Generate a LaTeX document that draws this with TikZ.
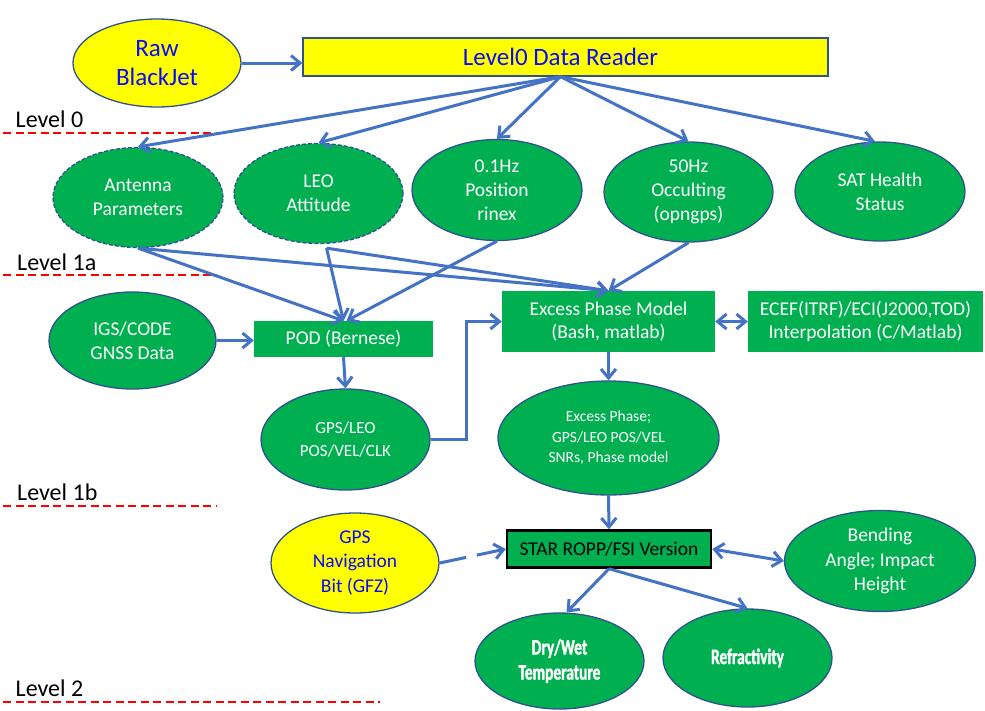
\documentclass[tikz,border=0pt]{standalone}
\usepackage{fontspec}
\setmainfont{Carlito}
\newfontfamily\condbold{Carlito}[FakeStretch=0.7, BoldFeatures={FakeBold=1.5}]
\usetikzlibrary{shapes.geometric,arrows.meta,calc}
\definecolor{gfill}{RGB}{0,176,80}
\definecolor{yfill}{RGB}{255,255,0}
\definecolor{edgeblue}{RGB}{47,82,143}
\definecolor{arr}{RGB}{68,114,196}
\definecolor{txtblue}{RGB}{10,10,250}
\definecolor{lvlred}{RGB}{255,0,0}
\tikzset{
 ell/.style={ellipse, draw=edgeblue, line width=1.3pt, fill=gfill, text=white, inner sep=0pt, align=center, font=\fontsize{19.5}{24}\selectfont},
 dashell/.style={ell, dash pattern=on 4pt off 2pt},
 yell/.style={ell, fill=yfill, text=txtblue},
 gbox/.style={rectangle, fill=gfill, text=white, inner sep=0pt, align=center, font=\fontsize{19.5}{23.5}\selectfont},
 conn/.style={draw=arr, line width=3pt, -{Straight Barb[length=9pt,width=15pt]}},
 biconn/.style={draw=arr, line width=3pt, {Straight Barb[length=9pt,width=15pt]}-{Straight Barb[length=9pt,width=15pt]}},
 lvl/.style={anchor=base west, inner sep=0pt, font=\fontsize{24}{28}\selectfont},
 lvlline/.style={draw=lvlred, line width=2pt, dash pattern=on 8pt off 4.5pt},
}
\begin{document}
\begin{tikzpicture}[x=1pt,y=-1pt]
\useasboundingbox (0,0) rectangle (985,710);
% level labels
\node[lvl] (l0) at (15.5,127.7) {Level 0};
\node[lvl] (l1a) at (17,270.7) {Level 1a};
\node[lvl] (l1b) at (17,500) {Level 1b};
\node[lvl] (l2) at (15.5,696) {Level 2};
\draw[lvlline] (3,132.7) -- (217,132.7);
\draw[lvlline] (3,275) -- (217,275);
\draw[lvlline] (3,505.7) -- (217,505.7);
\draw[lvlline] (3,702) -- (380,702);
% top
\node[yell, minimum width=168, minimum height=88, font=\fontsize{25}{29.5}\selectfont] (raw) at (157,63) {Raw\\BlackJet};
\node[rectangle, draw=edgeblue, line width=1.3pt, fill=yfill, text=txtblue, minimum width=525, minimum height=38, inner sep=0pt, font=\fontsize{25}{29}\selectfont] (reader) at (565.5,57) {\hspace*{-10pt}Level0 Data Reader};
% level 1
\node[dashell, minimum width=170, minimum height=100] (ant) at (138,197.5) {Antenna\\Parameters};
\node[dashell, minimum width=169, minimum height=100] (leo) at (318.5,193.5) {LEO\\Attitude};
\node[ell, minimum width=170, minimum height=101] (pos01) at (497,190) {0.1Hz\\Position\\rinex};
\node[ell, minimum width=169, minimum height=100] (occ) at (688.5,192) {50Hz\\Occulting\\(opngps)};
\node[ell, minimum width=170, minimum height=99] (sat) at (880,191.5) {SAT Health\\Status};
% level 1a
\node[ell, minimum width=167, minimum height=97] (igs) at (132.5,340.5) {IGS/CODE\\GNSS Data};
\node[gbox, minimum width=179, minimum height=36] (pod) at (343.5,339) {POD (Bernese)};
\node[ell, minimum width=169, minimum height=101, font=\fontsize{17}{23}\selectfont] (gpsleo) at (345.5,439.5) {GPS/LEO\\POS/VEL/CLK};
\node[gbox, minimum width=213, minimum height=61] (epm) at (608.5,321.5) {Excess Phase Model\\(Bash, matlab)};
\node[gbox, minimum width=235, minimum height=61] (ecef) at (865.5,321.5) {ECEF(ITRF)/ECI(J2000,TOD)\\Interpolation (C/Matlab)};
\node[ell, minimum width=221, minimum height=114, font=\fontsize{15.5}{20.5}\selectfont] (exph) at (608.5,438) {Excess Phase;\\GPS/LEO POS/VEL\\SNRs, Phase model};
% level 1b
\node[gbox, draw=black, line width=2.5pt, text=black, minimum width=204, minimum height=37] (star) at (609,549) {STAR ROPP/FSI Version};
\node[yell, minimum width=168, minimum height=100, font=\fontsize{19.5}{24.5}\selectfont] (nav) at (355,563) {GPS\\Navigation\\Bit (GFZ)};
\node[ell, minimum width=191, minimum height=101, font=\fontsize{19.5}{24.5}\selectfont] (bend) at (880,561) {Bending\\Angle; Impact\\Height};
\node[ell, minimum width=169, minimum height=96, font=\condbold\bfseries\fontsize{22}{25}\selectfont] (dry) at (559.5,661) {Dry/Wet\\Temperature};
\node[ell, minimum width=169, minimum height=98, font=\condbold\bfseries\fontsize{22}{25}\selectfont] (refr) at (747.5,658) {Refractivity};
% connectors
\draw[conn] (raw.east) -- (raw.east -| reader.west);
\draw[conn] ([xshift=-5pt]reader.south) -- (ant.north);
\draw[conn] ([xshift=-5pt]reader.south) -- (leo.north);
\draw[conn] ([xshift=-5pt]reader.south) -- (pos01.north);
\draw[conn] ([xshift=-5pt]reader.south) -- (occ.north);
\draw[conn] ([xshift=-5pt]reader.south) -- ([xshift=-5pt]sat.north);
\draw[conn] (ant.south) -- (pod.north);
\draw[conn] (ant.south) -- (epm.north);
\draw[conn] ([xshift=8pt,yshift=-4pt]leo.south) -- (pod.north);
\draw[conn] ([xshift=8pt,yshift=-4pt]leo.south) -- (epm.north);
\draw[conn] (pos01.south) -- ([xshift=3pt]pod.north);
\draw[conn] (occ.south) -- (epm.north);
\draw[conn] (igs.east) -- (igs.east -| pod.west);
\draw[conn] (pod.south) -- (gpsleo.north);
\draw[conn] (gpsleo.east) -- ++(36,0) |- (epm.west);
\draw[biconn] (epm.east) -- (ecef.west);
\draw[conn] (epm.south) -- (exph.north);
\draw[conn] (exph.south) -- (star.north);
\draw[conn, dash pattern=on 27pt off 11pt] (nav.east) -- (star.west);
\draw[biconn] (star.east) -- (bend.west);
\draw[conn] (star.south) -- ([xshift=7pt]dry.north);
\draw[conn] (star.south) -- (refr.north);
\end{tikzpicture}
\end{document}
